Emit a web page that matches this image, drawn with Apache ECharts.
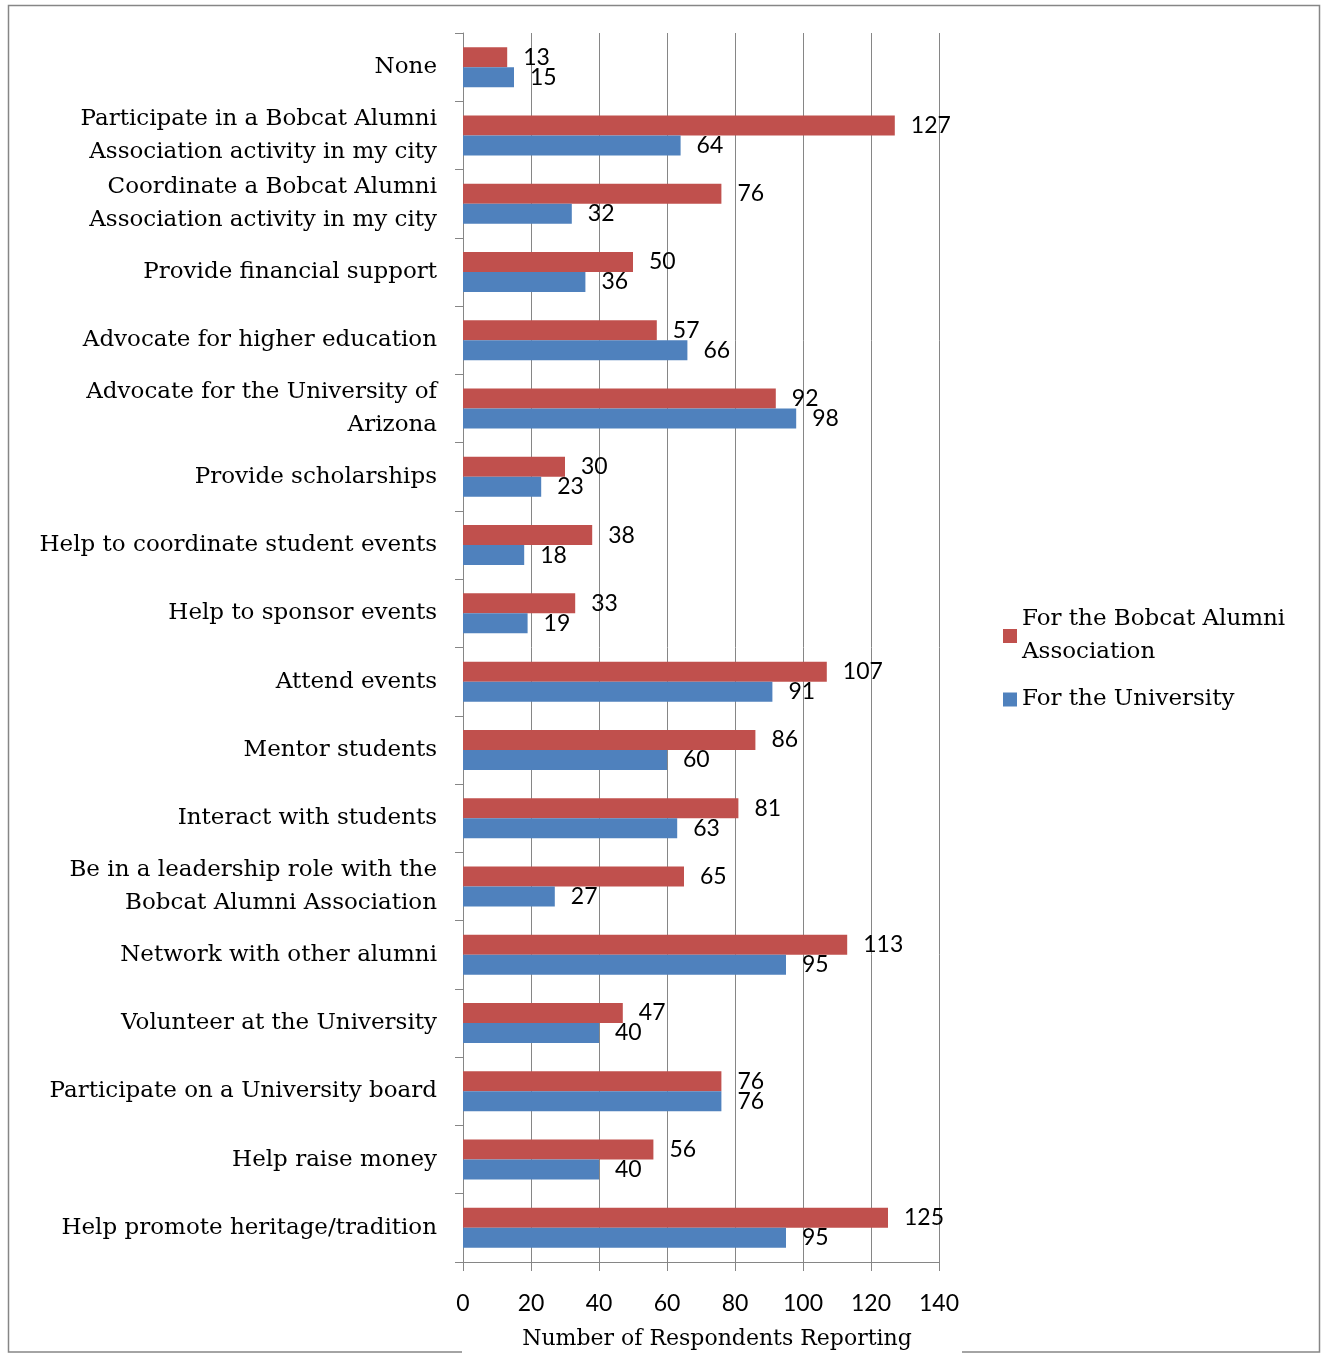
<!DOCTYPE html>
<html><head><meta charset="utf-8">
<script src="https://cdn.jsdelivr.net/npm/echarts@6/dist/echarts.min.js"></script>
<style>html,body{margin:0;padding:0;background:#fff}#c{width:1322px;height:1355px}</style>
</head><body><div id="c"></div>
<script>
var categories = [
  'None',
  'Participate in a Bobcat Alumni\nAssociation activity in my city',
  'Coordinate a Bobcat Alumni\nAssociation activity in my city',
  'Provide financial support',
  'Advocate for higher education',
  'Advocate for the University of\nArizona',
  'Provide scholarships',
  'Help to coordinate student events',
  'Help to sponsor events',
  'Attend events',
  'Mentor students',
  'Interact with students',
  'Be in a leadership role with the\nBobcat Alumni Association',
  'Network with other alumni',
  'Volunteer at the University',
  'Participate on a University board',
  'Help raise money',
  'Help promote heritage/tradition'
];
var bobcatValues = [13,127,76,50,57,92,30,38,33,107,86,81,65,113,47,76,56,125];
var universityValues = [15,64,32,36,66,98,23,18,19,91,60,63,27,95,40,76,40,95];
var seriesNames = ['For the Bobcat Alumni\nAssociation','For the University'];
var xTicks = [0,20,40,60,80,100,120,140];

var chart = echarts.init(document.getElementById('c'), null, {renderer:'canvas'});
var serif = '"DejaVu Serif", "Liberation Serif", serif';
var sans = 'Lato, "Open Sans", sans-serif';
var gray = '#868686';
var labelStyle = {show:true, position:'right', distance:16, fontFamily:sans, fontSize:23, color:'#000'};
chart.setOption({
  animation:false,
  backgroundColor:'#fff',
  grid:{left:463, right:383, top:33, bottom:84, containLabel:false},
  legend:{
    orient:'vertical', left:998, top:598, itemWidth:14, itemHeight:14, itemGap:14,
    icon:'rect',
    textStyle:{fontFamily:serif, fontSize:23, color:'#000', lineHeight:33},
    data:seriesNames
  },
  xAxis:{
    type:'value', min:xTicks[0], max:xTicks[xTicks.length-1], interval:20,
    axisLine:{show:true, lineStyle:{color:gray}},
    axisTick:{show:true, length:9, lineStyle:{color:gray}},
    splitLine:{show:true, lineStyle:{color:gray, width:1}},
    axisLabel:{fontFamily:sans, fontSize:23, color:'#000', margin:30},
    name:'Number of Respondents Reporting', nameLocation:'middle', nameGap:66,
    nameTextStyle:{fontFamily:serif, fontSize:22, color:'#000', padding:[0,0,0,32]}
  },
  yAxis:{
    type:'category', inverse:true, data:categories,
    axisLine:{show:true, lineStyle:{color:gray}},
    axisTick:{show:true, length:8, lineStyle:{color:gray}},
    axisLabel:{fontFamily:serif, fontSize:23, color:'#000', margin:26, lineHeight:33, align:'right'}
  },
  series:[
    {name:seriesNames[0], type:'bar', data:bobcatValues, barWidth:20, barGap:'0%',
     itemStyle:{color:'#C0504D'}, label:labelStyle},
    {name:seriesNames[1], type:'bar', data:universityValues, barWidth:20, barGap:'0%',
     itemStyle:{color:'#4F81BD'}, label:labelStyle}
  ],
  graphic:[
    {type:'polyline', silent:true, shape:{points:[[462,1352],[8.5,1352],[8.5,5.5],[1319.5,5.5],[1319.5,1352],[962,1352]]},
     style:{stroke:gray, lineWidth:1.5, fill:null}}
  ]
});
</script></body></html>
